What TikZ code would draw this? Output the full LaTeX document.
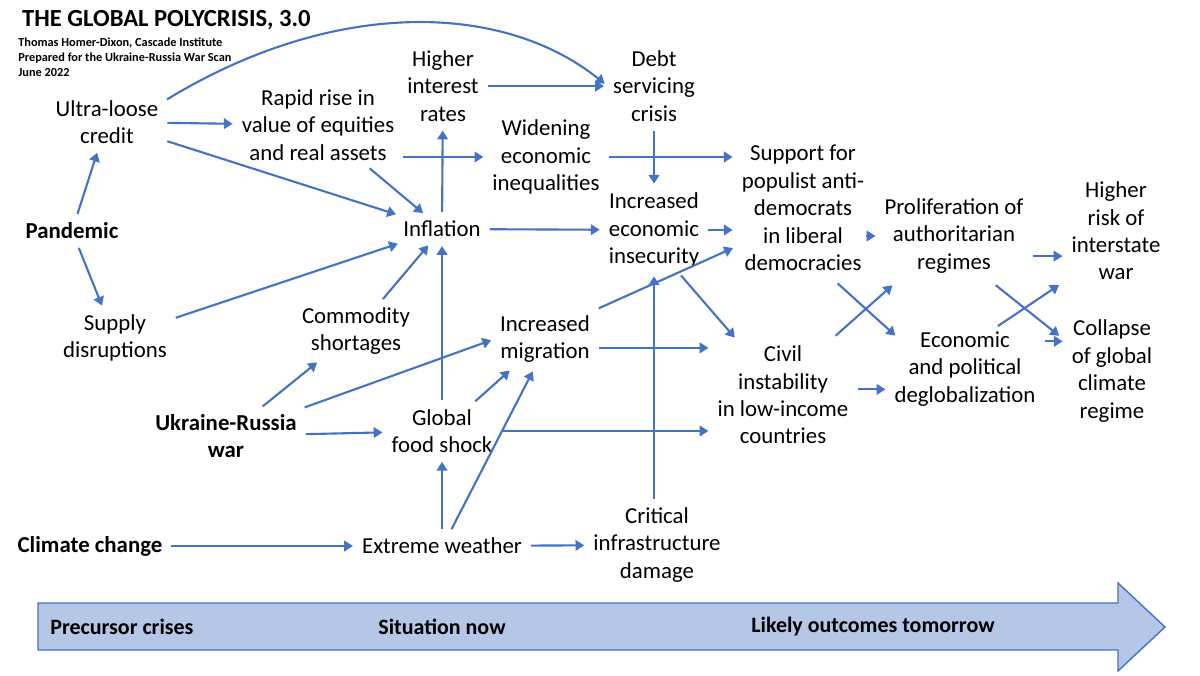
\documentclass[tikz,border=0pt]{standalone}
\usepackage{fontspec}
\setmainfont{Carlito}
\usetikzlibrary{positioning,arrows.meta}
\definecolor{linkblue}{HTML}{4472C4}
\definecolor{barblue}{HTML}{B4C7E7}
\tikzset{
  box/.style={align=center, inner sep=3pt, font=\fontsize{13}{15.6}\selectfont},
  root/.style={box, font=\fontsize{13}{15.6}\selectfont\bfseries},
  lnk/.style={draw=linkblue, line width=1.2pt, -{Triangle[length=5pt,width=6pt]}, shorten >=2pt, shorten <=2pt},
  stage/.style={font=\fontsize{12.5}{15}\selectfont\bfseries}
}
\begin{document}
\begin{tikzpicture}[x=0.02cm, y=-0.02cm]
	\useasboundingbox (0,0) rectangle (1200,676);
	% title block
	\node[anchor=west, font=\fontsize{14}{16}\selectfont\bfseries] (title) at (16,20) {THE GLOBAL POLYCRISIS, 3.0};
	\node[anchor=north west, align=left, inner sep=0pt, font=\fontsize{7}{8.8}\selectfont\bfseries] (credit) at (18,37) {Thomas Homer-Dixon, Cascade Institute\\Prepared for the Ukraine-Russia War Scan\\June 2022};
	% precursor crises
	\node[box] (ultra) at (107,122) {Ultra-loose\\credit};
	\node[root] (pandemic) at (72,231) {Pandemic};
	\node[box] (supply) at (115,338) {Supply\\disruptions};
	\node[root] (ukraine) at (226,436) {Ukraine-Russia\\war};
	\node[root] (climate) at (90,546) {Climate change};
	% situation now
	\node[box] (rapid) at (318,125) {Rapid rise in\\value of equities\\and real assets};
	\node[box] (rates) at (443,86) {Higher\\interest\\rates};
	\node[box] (inflation) at (442,229) {Inflation};
	\node[box] (commodity) at (356,331) {Commodity\\shortages};
	\node[box] (food) at (442,431) {Global\\food shock};
	\node[box] (weather) at (442,546) {Extreme weather};
	\node[box] (debt) at (654,86) {Debt\\servicing\\crisis};
	\node[box] (widening) at (546,157) {Widening\\economic\\inequalities};
	\node[box] (insecurity) at (654,230) {Increased\\economic\\insecurity};
	\node[box] (migration) at (545,339) {Increased\\migration};
	\node[box] (infra) at (657,545) {Critical\\infrastructure\\damage};
	% likely outcomes
	\node[box] (populist) at (803,208) {Support for\\populist anti-\\democrats\\in liberal\\democracies};
	\node[box] (civil) at (783,395) {Civil\\instability\\in low-income\\countries};
	\node[box] (autocracy) at (954,236) {Proliferation of\\authoritarian\\regimes};
	\node[box] (deglobal) at (965,369) {Economic\\and political\\deglobalization};
	\node[box] (war) at (1116,231) {Higher\\risk of\\interstate\\war};
	\node[box] (climreg) at (1112,371) {Collapse\\of global\\climate\\regime};
	% crossing ends
	\coordinate (popout) at (835,281);
	\coordinate (civout) at (833,338);
	\coordinate (autin) at (895,283);
	\coordinate (degin) at (898,338);
	\coordinate (autout) at (993,283);
	\coordinate (degout) at (995,328);
	\coordinate (warin) at (1062,283);
	\coordinate (climin) at (1062,338);
	% time bar
	\draw[draw=linkblue, fill=barblue, line width=0.8pt] (38,603) -- (1118,603) -- (1118,583) -- (1165,627) -- (1118,671) -- (1118,650) -- (38,650) -- cycle;
	\node[stage] (past) at (122,627) {Precursor crises};
	\node[stage] (now) at (442,627) {Situation now};
	\node[stage] (future) at (873,627) {Likely outcomes tomorrow};
	% connectors
	\draw[lnk] (ultra.20) .. controls (330,0) and (500,0) .. (debt.west);
	\draw[lnk] (ultra) -- (rapid);
	\draw[lnk] (ultra) -- (inflation);
	\draw[lnk] (pandemic) -- (ultra);
	\draw[lnk] (pandemic) -- (supply);
	\draw[lnk] (supply) -- (inflation);
	\draw[lnk] (rapid.east |- widening) -- (widening);
	\draw[lnk] (rapid) -- (inflation);
	\draw[lnk] (inflation) -- (rates);
	\draw[lnk] (rates) -- (debt);
	\draw[lnk] (inflation) -- (insecurity);
	\draw[lnk] (widening.east) -- (widening.east -| populist.west);
	\draw[lnk] (debt) -- (insecurity);
	\draw[lnk] (insecurity.east) -- (insecurity.east -| populist.west);
	\draw[lnk] (insecurity.-60) -- (civil.130);
	\draw[lnk] (migration.north east) -- (populist.-150);
	\draw[lnk] (migration.-10) -- (migration.-10 -| civil.west);
	\draw[lnk] (infra.north -| insecurity) -- (insecurity.south);
	\draw[lnk] (commodity) -- (inflation);
	\draw[lnk] (food) -- (inflation);
	\draw[lnk] (ukraine) -- (commodity);
	\draw[lnk] (ukraine.20) -- (migration.west);
	\draw[lnk] (ukraine) -- (food);
	\draw[lnk] (food) -- (migration);
	\draw[lnk] (food.east) -- (food.east -| civil.west);
	\draw[lnk] (weather) -- (food);
	\draw[lnk] (weather.60) -- (migration.-110);
	\draw[lnk] (climate) -- (weather);
	\draw[lnk] (weather) -- (infra);
	\draw[lnk] (populist.east |- autocracy) -- (autocracy);
	\draw[lnk] (popout) -- (degin);
	\draw[lnk] (civout) -- (autin);
	\draw[lnk] (civil.east |- deglobal.-15) -- (deglobal.-165);
	\draw[lnk] (autocracy.-15) -- (autocracy.-15 -| war.west);
	\draw[lnk] (autout) -- (climin);
	\draw[lnk] (degout) -- (warin);
	\draw[lnk] (deglobal.20) -- (deglobal.20 -| climreg.west);
\end{tikzpicture}
\end{document}
